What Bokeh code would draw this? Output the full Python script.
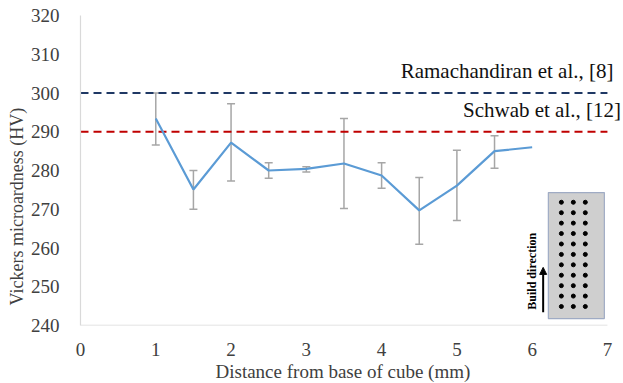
from bokeh.plotting import figure
from bokeh.models import (ColumnDataSource, Range1d, FixedTicker, Label, Title,
                          Whisker, TeeHead, Arrow, NormalHead)
from bokeh.embed import file_html
from bokeh.resources import INLINE
import numpy as np

# ---- data ----
distance = [1, 1.5, 2, 2.5, 3, 3.5, 4, 4.5, 5, 5.5, 6]
hardness = [293.4, 275.1, 287.2, 280.0, 280.4, 281.8, 278.7, 269.7, 276.1, 285.0, 286.0]
err_upper = [300.0, 280.0, 297.2, 282.0, 281.0, 293.4, 282.0, 278.2, 285.2, 289.0, None]
err_lower = [286.6, 270.0, 277.3, 278.0, 279.6, 270.2, 275.4, 261.0, 267.1, 280.6, None]
x_ticks = [0, 1, 2, 3, 4, 5, 6, 7]
y_ticks = [240, 250, 260, 270, 280, 290, 300, 310, 320]
ref_values = [300, 290]
ref_labels = ["Ramachandiran et al., [8]", "Schwab et al., [12]"]
x_title = "Distance from base of cube (mm)"
y_title = "Vickers microardness (HV)"

FONT = "'Liberation Serif', 'Times New Roman', serif"
X_MIN, X_MAX = 0, 7          # axis extent
X_VIEW_MAX = 7.2             # extra room so that right-hand texts are not clipped

p = figure(width=623, height=383, output_backend="svg", toolbar_location=None,
           x_range=Range1d(X_MIN, X_VIEW_MAX), y_range=Range1d(240, 320),
           min_border_left=80, min_border_right=1, min_border_top=15,
           min_border_bottom=58)
p.outline_line_color = None
p.grid.visible = False
p.background_fill_color = "white"

for ax in (p.xaxis, p.yaxis):
    ax.major_tick_line_color = None
    ax.minor_tick_line_color = None
    ax.major_label_text_font = FONT
    ax.major_label_text_font_size = "19px"
    ax.major_label_text_color = "#404040"
p.xaxis.axis_line_color = None
p.yaxis.axis_line_color = "#d9d9d9"
p.yaxis.axis_line_width = 1.2
p.xaxis.ticker = FixedTicker(ticks=x_ticks)
p.yaxis.ticker = FixedTicker(ticks=y_ticks)
p.xaxis.major_label_standoff = 11
p.yaxis.major_label_standoff = 15

# x axis line drawn only over the 0..7 extent
p.segment(x0=[X_MIN], x1=[X_MAX], y0=[240], y1=[240], line_color="#d9d9d9", line_width=1.5)

# axis titles placed as in reference
p.add_layout(Title(text=x_title, align="left", offset=135,
                   text_font=FONT, text_font_size="19px", text_font_style="normal",
                   text_color="#404040", standoff=0), "below")
p.add_layout(Title(text=y_title, align="left", offset=20,
                   text_font=FONT, text_font_size="18px", text_font_style="normal",
                   text_color="#404040", standoff=2), "left")

# reference lines
colors = ["#1f3864", "#c00000"]
for v, c in zip(ref_values, colors):
    p.segment(x0=[X_MIN], x1=[X_MAX], y0=[v], y1=[v], line_color=c,
              line_dash="8 5", line_width=2)
p.add_layout(Label(x=7.08, y=305.8, text=ref_labels[0], text_font=FONT,
                   text_font_size="21px", text_color="#111111",
                   text_align="right", text_baseline="middle"))
p.add_layout(Label(x=7.18, y=295.5, text=ref_labels[1], text_font=FONT,
                   text_font_size="21px", text_color="#111111",
                   text_align="right", text_baseline="middle"))

# error bars
eb_idx = [i for i, u in enumerate(err_upper) if u is not None]
eb_src = ColumnDataSource(dict(x=[distance[i] for i in eb_idx],
                               upper=[err_upper[i] for i in eb_idx],
                               lower=[err_lower[i] for i in eb_idx]))
p.add_layout(Whisker(source=eb_src, base="x", upper="upper", lower="lower",
                     line_color="#a6a6a6", line_width=1.5,
                     upper_head=TeeHead(size=8, line_color="#a6a6a6", line_width=1.5),
                     lower_head=TeeHead(size=8, line_color="#a6a6a6", line_width=1.5)))

# main series
src = ColumnDataSource(dict(x=distance, y=hardness))
p.line("x", "y", source=src, line_color="#5b9bd5", line_width=2.2)

# inset illustration (cube with indentation grid)
ix0, ix1, iy0, iy1 = 6.215, 6.959, 241.8, 274.3
p.quad(left=[ix0], right=[ix1], bottom=[iy0], top=[iy1], fill_color="#cfcfcf",
       line_color="#9fabc4", line_width=1.2)
gx = [6.388, 6.547, 6.706]
gy = np.linspace(244.9, 271.8, 11)
GX, GY = np.meshgrid(gx, gy)
p.scatter(GX.ravel(), GY.ravel(), size=4, color="black")
p.add_layout(Arrow(x_start=6.146, y_start=243.4, x_end=6.146, y_end=255.0,
                   line_width=2, line_color="black",
                   end=NormalHead(size=7, fill_color="black", line_color="black")))
p.add_layout(Label(x=6.0, y=254.0, text="Build direction", angle=np.pi / 2,
                   text_font=FONT, text_font_style="bold", text_font_size="12px",
                   text_color="black", text_align="center", text_baseline="middle"))

open("out.html", "w").write(file_html(p, INLINE))
